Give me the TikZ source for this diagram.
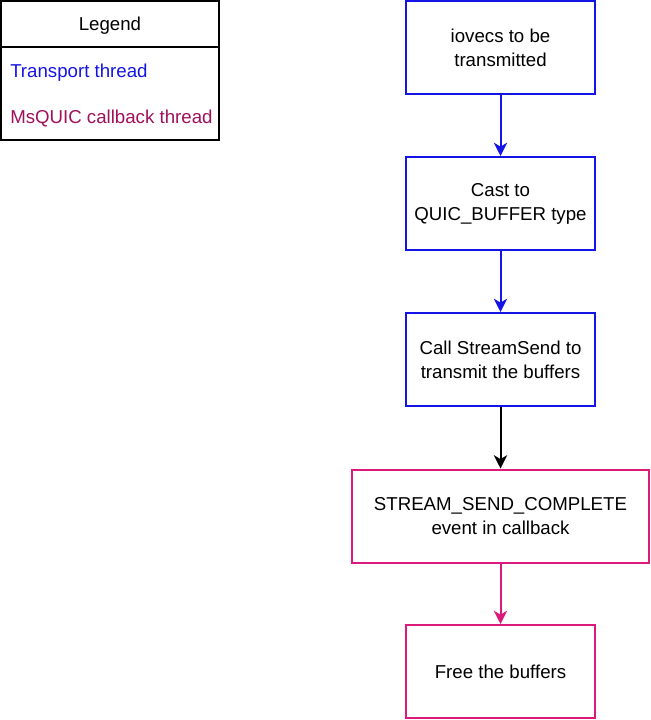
\documentclass[tikz,border=0pt]{standalone}
\usepackage{fontspec}
\setmainfont{Liberation Sans}
\usetikzlibrary{arrows.meta}
\definecolor{tblue}{HTML}{1414E6}
\definecolor{cbpink}{HTML}{DB1A7C}
\definecolor{cbtext}{HTML}{A0105A}
\begin{document}
\begin{tikzpicture}[x=0.75pt,y=-0.75pt,
  font=\fontsize{14}{18}\selectfont,
  stepbox/.style={draw, line width=1.5pt, rectangle, minimum width=141.75pt,
    minimum height=69.75pt, align=center, inner sep=0pt},
  widebox/.style={stepbox, minimum width=222.75pt},
  legbox/.style={draw=black, line width=1.1pt, rectangle, minimum width=163.5pt,
    minimum height=104.25pt, inner sep=0pt},
  flow/.style={line width=1.5pt, -{Stealth[length=10pt,width=10pt,inset=3pt]}}]
\useasboundingbox (0,0) rectangle (650,720);
% legend
\node[legbox] (leg) at (110,70.5) {};
\coordinate (dv) at (110,47);
\draw[line width=1.1pt] (leg.west |- dv) -- (leg.east |- dv);
\node[inner sep=0pt] (legt) at (110,26) {Legend};
\node[anchor=west, text=tblue, inner sep=0pt] (lt1) at (10,73) {Transport thread};
\node[anchor=west, text=cbtext, inner sep=0pt] (lt2) at (10,119) {MsQUIC callback thread};
% flow
\node[stepbox, draw=tblue] (b1) at (500.5,47.5) {iovecs to be\\transmitted};
\node[stepbox, draw=tblue] (b2) at (500.5,203.5) {Cast to\\QUIC\_BUFFER type};
\node[stepbox, draw=tblue] (b3) at (500.5,359.5) {Call StreamSend to\\transmit the buffers};
\node[widebox, draw=cbpink] (b4) at (500.5,516) {STREAM\_SEND\_COMPLETE\\event in callback};
\node[stepbox, draw=cbpink] (b5) at (500.5,671.5) {Free the buffers};
\draw[flow, tblue] (b1) -- (b2);
\draw[flow, tblue] (b2) -- (b3);
\draw[flow, black] (b3) -- (b4);
\draw[flow, cbpink] (b4) -- (b5);
\end{tikzpicture}
\end{document}
